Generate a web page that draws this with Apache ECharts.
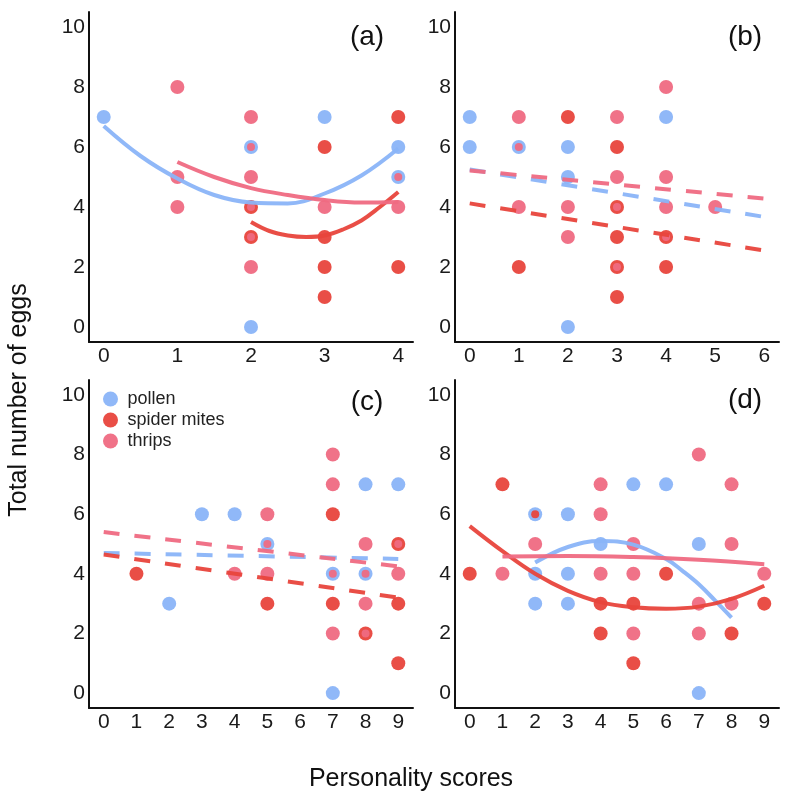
<!DOCTYPE html>
<html>
<head>
<meta charset="utf-8">
<script src="https://cdn.jsdelivr.net/npm/echarts@6/dist/echarts.min.js"></script>
<style>
  html, body { margin: 0; padding: 0; background: #fff; }
  #chart { width: 792px; height: 793px; }
</style>
</head>
<body>
<div id="chart"></div>
<script>
// tick labels
const yTicks = [0, 2, 4, 6, 8, 10];
const xTicksA = [0, 1, 2, 3, 4];
const xTicksB = [0, 1, 2, 3, 4, 5, 6];
const xTicksCD = [0, 1, 2, 3, 4, 5, 6, 7, 8, 9];
const groups = ['pollen', 'spider mites', 'thrips'];

// (a)
const aPollen = [[0, 7], [2, 6], [2, 0], [3, 7], [4, 6], [4, 5]];
const aMites = [[2, 4], [2, 3], [3, 6], [3, 3], [3, 2], [3, 1], [4, 7], [4, 2]];
const aThrips = [[1, 8], [1, 5], [1, 4], [2, 7], [2, 6], [2, 5], [2, 4], [2, 3], [2, 2], [3, 4], [4, 5], [4, 4]];
const aPollenFit = [[0, 6.7], [0.5, 5.7], [1, 4.95], [1.5, 4.4], [2, 4.15], [2.5, 4.12], [3, 4.45], [3.5, 5.05], [4, 5.95]];
const aMitesFit = [[2, 3.5], [2.25, 3.2], [2.5, 3.05], [2.75, 3.0], [3, 3.05], [3.25, 3.25], [3.5, 3.55], [3.75, 4.0], [4, 4.5]];
const aThripsFit = [[1, 5.5], [1.5, 5.0], [2, 4.63], [2.5, 4.4], [3, 4.23], [3.5, 4.15], [4, 4.17]];

// (b)
const bPollen = [[0, 7], [0, 6], [1, 6], [2, 6], [2, 5], [2, 0], [4, 7]];
const bMites = [[1, 2], [2, 7], [3, 6], [3, 4], [3, 3], [3, 2], [3, 1], [4, 3], [4, 2]];
const bThrips = [[1, 7], [1, 6], [1, 4], [2, 4], [2, 3], [3, 7], [3, 5], [3, 4], [3, 2], [4, 8], [4, 5], [4, 4], [4, 3], [5, 4]];
const bPollenFit = [[0, 5.25], [6, 3.67]];
const bMitesFit = [[0, 4.12], [6, 2.55]];
const bThripsFit = [[0, 5.22], [6, 4.28]];

// (c)
const cPollen = [[2, 3], [3, 6], [4, 6], [5, 5], [7, 4], [7, 0], [8, 7], [8, 4], [9, 7]];
const cMites = [[1, 4], [5, 3], [7, 6], [7, 3], [8, 2], [9, 5], [9, 3], [9, 1]];
const cThrips = [[4, 4], [5, 6], [5, 5], [5, 4], [7, 8], [7, 7], [7, 4], [7, 2], [8, 5], [8, 4], [8, 3], [8, 2], [9, 5], [9, 4]];
const cPollenFit = [[0, 4.7], [9, 4.5]];
const cMitesFit = [[0, 4.65], [9, 3.2]];
const cThripsFit = [[0, 5.4], [9, 4.25]];

// (d)
const dPollen = [[2, 6], [2, 4], [2, 3], [3, 6], [3, 4], [3, 3], [4, 5], [5, 7], [6, 7], [7, 5], [7, 0]];
const dMites = [[0, 4], [1, 7], [2, 6], [4, 3], [4, 2], [5, 3], [5, 1], [6, 4], [8, 2], [9, 3]];
const dThrips = [[1, 4], [2, 5], [4, 7], [4, 6], [4, 4], [5, 5], [5, 4], [5, 2], [7, 8], [7, 3], [7, 2], [8, 7], [8, 5], [8, 3], [9, 4]];
const dPollenFit = [[2, 4.38], [3, 4.9], [4, 5.1], [5, 4.98], [6, 4.5], [6.5, 4.1], [7, 3.65], [7.5, 3.1], [8, 2.53]];
const dMitesFit = [[0, 5.6], [1, 4.76], [2, 4.0], [3, 3.43], [4, 3.05], [5, 2.88], [6, 2.83], [7, 2.9], [8, 3.16], [9, 3.6]];
const dThripsFit = [[1, 4.58], [3, 4.6], [5, 4.56], [7, 4.47], [9, 4.32]];

const colors = ['#8ab4f8', '#e8453c', '#ef6a82'];
const font = "'Liberation Sans', Arial, sans-serif";

const panels = [
  {label: '(a)', grid: {left: 89, top: 12, width: 324, height: 330}, xTicks: xTicksA, pad: 0.2, dashed: false,
    pts: [aPollen, aMites, aThrips], fits: [aPollenFit, aMitesFit, aThripsFit], lx: 367, ly: 37},
  {label: '(b)', grid: {left: 455, top: 12, width: 324, height: 330}, xTicks: xTicksB, pad: 0.3, dashed: true,
    pts: [bPollen, bMites, bThrips], fits: [bPollenFit, bMitesFit, bThripsFit], lx: 745, ly: 37},
  {label: '(c)', grid: {left: 89, top: 380, width: 324, height: 328}, xTicks: xTicksCD, pad: 0.45, dashed: true,
    pts: [cPollen, cMites, cThrips], fits: [cPollenFit, cMitesFit, cThripsFit], lx: 367, ly: 402},
  {label: '(d)', grid: {left: 455, top: 380, width: 324, height: 328}, xTicks: xTicksCD, pad: 0.45, dashed: false,
    pts: [dPollen, dMites, dThrips], fits: [dPollenFit, dMitesFit, dThripsFit], lx: 745, ly: 400}
];

// points that land on an already drawn point get a smaller dot, like the overplotting in the figure
function sized(list, taken) {
  return list.map(p => {
    const k = p.join(',');
    const n = taken[k] || 0;
    taken[k] = n + 1;
    return {value: p, symbolSize: n === 0 ? 14 : (n === 1 ? 8 : 5)};
  });
}

const grid = [], xAxis = [], yAxis = [], series = [], graphic = [];

panels.forEach((p, i) => {
  grid.push(p.grid);
  const last = p.xTicks[p.xTicks.length - 1];
  xAxis.push({
    type: 'value', gridIndex: i, min: -p.pad, max: last + p.pad,
    axisLine: {onZero: false, lineStyle: {color: '#111', width: 2}},
    axisTick: {show: false}, splitLine: {show: false},
    axisLabel: {customValues: p.xTicks, color: '#1a1a1a', fontSize: 21, fontFamily: font, margin: 4}
  });
  yAxis.push({
    type: 'value', gridIndex: i, min: -0.5, max: 10.5,
    axisLine: {show: true, onZero: false, lineStyle: {color: '#111', width: 2}},
    axisTick: {show: false}, splitLine: {show: false},
    axisLabel: {customValues: yTicks, color: '#1a1a1a', fontSize: 21, fontFamily: font, margin: 4}
  });
  const taken = {};
  p.pts.forEach((pts, g) => {
    series.push({
      name: groups[g], type: 'scatter', xAxisIndex: i, yAxisIndex: i,
      data: sized(pts, taken), symbol: 'circle',
      itemStyle: {color: colors[g], opacity: 0.95}, z: 2
    });
  });
  p.fits.forEach((fit, g) => {
    series.push({
      type: 'line', xAxisIndex: i, yAxisIndex: i, data: fit, smooth: 0.4,
      showSymbol: false, silent: true, z: 3,
      lineStyle: {color: colors[g], width: 4, type: p.dashed ? [16, 15] : 'solid', cap: 'butt', opacity: 0.95}
    });
  });
  graphic.push({type: 'text', x: p.lx, y: p.ly,
    style: {text: p.label, font: '28px ' + font, fill: '#111', align: 'center', verticalAlign: 'middle'}});
});

graphic.push({type: 'text', x: 19, y: 400, rotation: Math.PI / 2,
  style: {text: 'Total number of eggs', font: '25px ' + font, fill: '#111', align: 'center', verticalAlign: 'middle'}});
graphic.push({type: 'text', x: 411, y: 779,
  style: {text: 'Personality scores', font: '25px ' + font, fill: '#111', align: 'center', verticalAlign: 'middle'}});

const chart = echarts.init(document.getElementById('chart'));
chart.setOption({
  backgroundColor: '#fff',
  animation: false,
  legend: {
    data: groups, orient: 'vertical', left: 98, top: 385, icon: 'circle',
    itemWidth: 24, itemHeight: 15, itemGap: 3, selectedMode: false,
    textStyle: {fontSize: 18, fontFamily: font, color: '#222'}
  },
  grid: grid,
  xAxis: xAxis,
  yAxis: yAxis,
  series: series,
  graphic: graphic
});
</script>
</body>
</html>
